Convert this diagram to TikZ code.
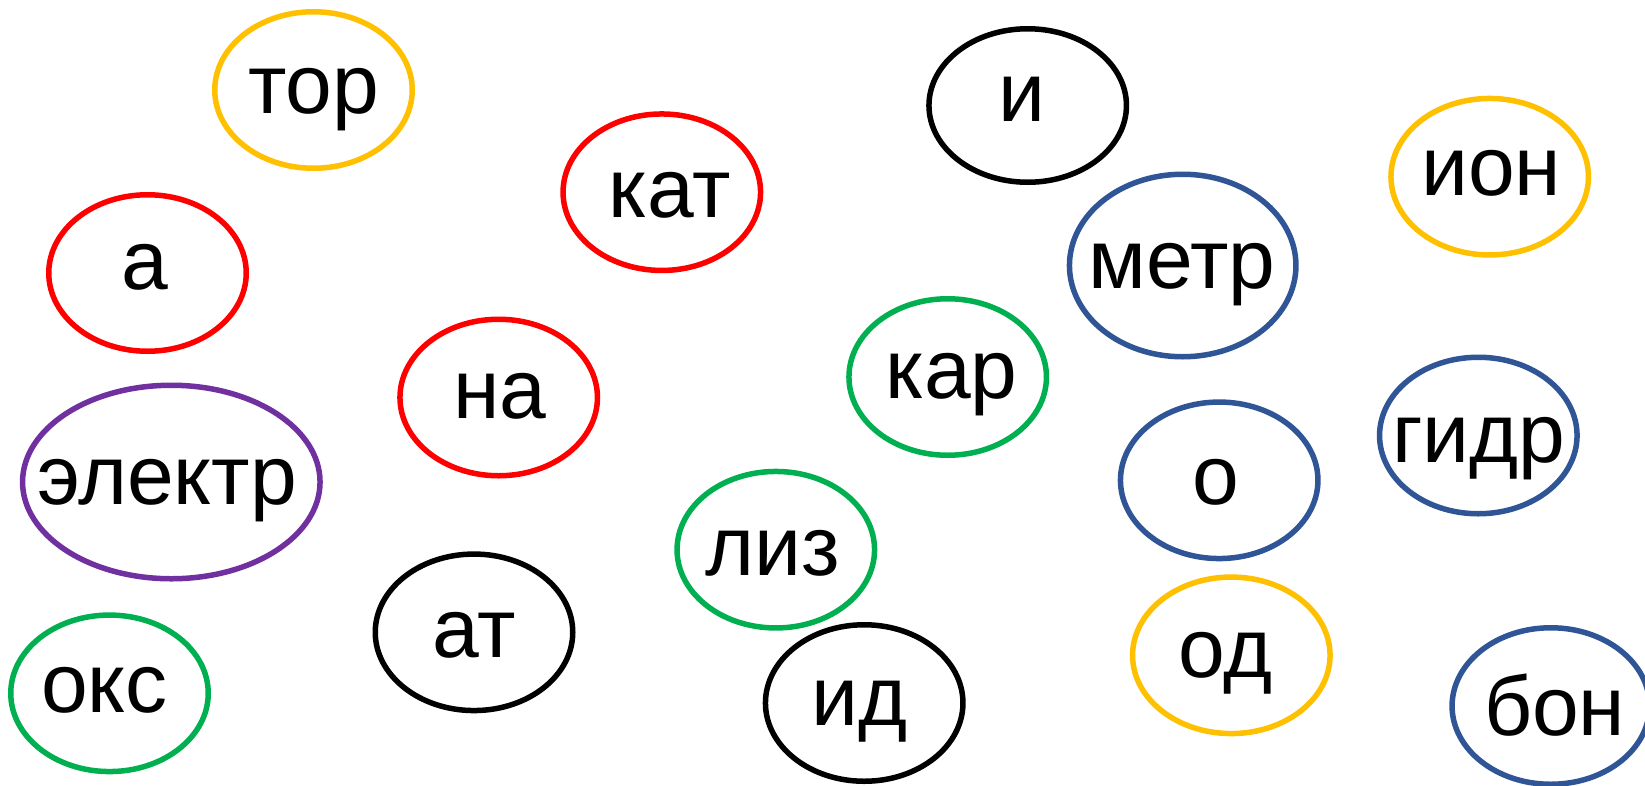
\documentclass[tikz,border=0pt]{standalone}
\usepackage{fontspec}
\setmainfont{Liberation Sans}
\usetikzlibrary{shapes.geometric}
\definecolor{cyel}{HTML}{FFC000}
\definecolor{cred}{HTML}{FF0000}
\definecolor{cpur}{HTML}{7030A0}
\definecolor{cgrn}{HTML}{00B050}
\definecolor{cblu}{HTML}{2F5597}
\tikzset{
  oval/.style={ellipse, draw=#1, line width=5.5pt, inner sep=0pt, outer sep=0pt,
    minimum width=197.5pt, minimum height=156.5pt},
  word/.style={anchor=base, inner sep=0pt, font=\fontsize{84}{100}\selectfont, text=black}
}
\begin{document}
\begin{tikzpicture}[x=1pt,y=-1pt]
\useasboundingbox (0,0) rectangle (1645,785);
\clip (0,0) rectangle (1645,785);
\fill[white] (0,0) rectangle (1645,785);
% ellipses
\node[oval=cyel] (e-tor) at (313.5,90) {};
\node[oval=cred] (e-a) at (147.5,273) {};
\node[oval=cred] (e-kat) at (661.8,192.2) {};
\node[oval=cred] (e-na) at (498.7,397.5) {};
\node[oval=black, minimum height=153.5pt] (e-i) at (1027.7,105.5) {};
\node[oval=cblu, minimum width=226.5pt, minimum height=182.5pt] (e-metr) at (1182.7,265.5) {};
\node[oval=cgrn] (e-kar) at (947.7,377) {};
\node[oval=cblu] (e-o) at (1219.2,480.3) {};
\node[oval=cyel] (e-od) at (1231.3,655.3) {};
\node[oval=cyel] (e-ion) at (1489.7,176.7) {};
\node[oval=cblu] (e-gidr) at (1478.3,435.5) {};
\node[oval=cblu] (e-bon) at (1550.8,706) {};
\node[oval=cpur, minimum width=297.5pt, minimum height=193.5pt] (e-elektr) at (171.3,482) {};
\node[oval=cgrn] (e-oks) at (109.5,693.3) {};
\node[oval=black] (e-at) at (474,632.3) {};
\node[oval=cgrn] (e-liz) at (775.8,549.7) {};
\node[oval=black] (e-id) at (864.2,703) {};
% words
\node[word] (w-tor) at (313.5,113.3) {тор};
\node[word] (w-a) at (145,289) {а};
\node[word] (w-kat) at (669.5,217.7) {кат};
\node[word] (w-na) at (500,418.3) {на};
\node[word] (w-i) at (1021.8,121.7) {и};
\node[word] (w-metr) at (1182.2,288.3) {метр};
\node[word] (w-kar) at (951.7,398.3) {кар};
\node[word] (w-o) at (1215.7,504) {о};
\node[word] (w-od) at (1225.8,677) {од};
\node[word] (w-ion) at (1491.2,195) {ион};
\node[word] (w-gidr) at (1478.7,462.7) {гидр};
\node[word] (w-bon) at (1554.7,735) {бон};
\node[word] (w-elektr) at (167,504) {электр};
\node[word] (w-oks) at (104.3,712.7) {окс};
\node[word] (w-at) at (474.2,657.7) {ат};
\node[word] (w-liz) at (772.6,575.7) {лиз};
\node[word] (w-id) at (859.8,725) {ид};
\end{tikzpicture}
\end{document}
